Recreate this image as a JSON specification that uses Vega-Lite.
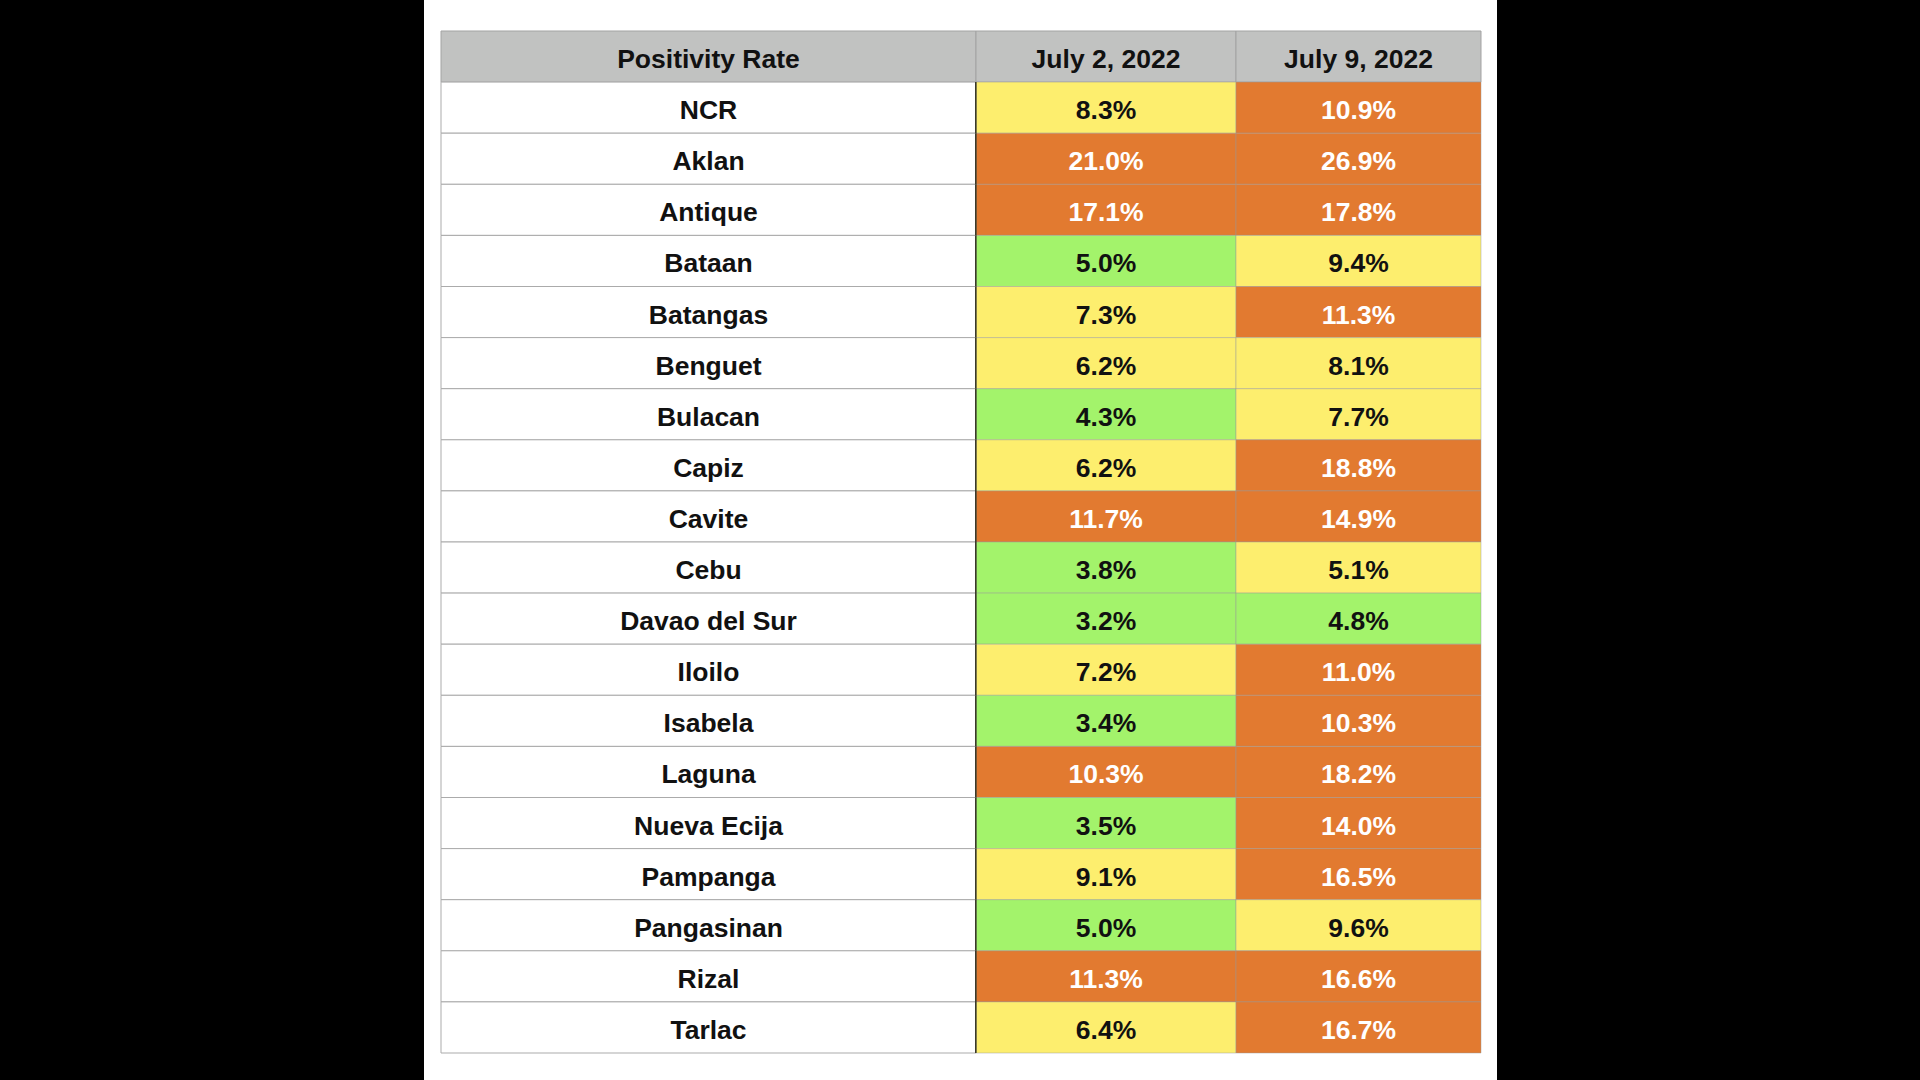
{
  "$schema": "https://vega.github.io/schema/vega-lite/v6.json",
  "width": 1073,
  "height": 1080,
  "autosize": {"type": "none"},
  "padding": {"left": 424, "top": 0, "right": 423, "bottom": 0},
  "background": "#000000",
  "config": {"view": {"fill": "#ffffff", "stroke": null}},
  "datasets": {
    "rates": [
      {"region": "NCR", "jul2": 0.083, "jul9": 0.109},
      {"region": "Aklan", "jul2": 0.210, "jul9": 0.269},
      {"region": "Antique", "jul2": 0.171, "jul9": 0.178},
      {"region": "Bataan", "jul2": 0.050, "jul9": 0.094},
      {"region": "Batangas", "jul2": 0.073, "jul9": 0.113},
      {"region": "Benguet", "jul2": 0.062, "jul9": 0.081},
      {"region": "Bulacan", "jul2": 0.043, "jul9": 0.077},
      {"region": "Capiz", "jul2": 0.062, "jul9": 0.188},
      {"region": "Cavite", "jul2": 0.117, "jul9": 0.149},
      {"region": "Cebu", "jul2": 0.038, "jul9": 0.051},
      {"region": "Davao del Sur", "jul2": 0.032, "jul9": 0.048},
      {"region": "Iloilo", "jul2": 0.072, "jul9": 0.110},
      {"region": "Isabela", "jul2": 0.034, "jul9": 0.103},
      {"region": "Laguna", "jul2": 0.103, "jul9": 0.182},
      {"region": "Nueva Ecija", "jul2": 0.035, "jul9": 0.140},
      {"region": "Pampanga", "jul2": 0.091, "jul9": 0.165},
      {"region": "Pangasinan", "jul2": 0.050, "jul9": 0.096},
      {"region": "Rizal", "jul2": 0.113, "jul9": 0.166},
      {"region": "Tarlac", "jul2": 0.064, "jul9": 0.167}
    ]
  },
  "resolve": {"scale": {"x": "independent"}},
  "layer": [
    {
      "data": {"values": [{"label": "Positivity Rate"}]},
      "encoding": {
        "x": {"datum": "Positivity Rate", "type": "nominal", "axis": null,
              "scale": {"domain": ["Positivity Rate"], "range": [17, 552], "paddingInner": 0, "paddingOuter": 0}},
        "y": {"datum": "Positivity Rate", "type": "nominal", "axis": null,
              "scale": {"domain": ["Positivity Rate", "NCR", "Aklan", "Antique", "Bataan", "Batangas", "Benguet", "Bulacan", "Capiz", "Cavite", "Cebu", "Davao del Sur", "Iloilo", "Isabela", "Laguna", "Nueva Ecija", "Pampanga", "Pangasinan", "Rizal", "Tarlac"], "range": [31, 1053], "paddingInner": 0, "paddingOuter": 0}}
      },
      "layer": [
        {"mark": {"type": "rect", "fill": "#c1c2c1", "stroke": "#a3a3a3", "strokeWidth": 1}},
        {"mark": {"type": "text", "font": "Liberation Sans", "fontWeight": "bold", "fontSize": 26.5, "fill": "#111111", "dy": 3.5}, "encoding": {"text": {"field": "label"}}}
      ]
    },
    {
      "data": {"values": [{"label": "July 2, 2022"}]},
      "encoding": {
        "x": {"datum": "July 2, 2022", "type": "nominal", "axis": null,
              "scale": {"domain": ["July 2, 2022"], "range": [552, 812], "paddingInner": 0, "paddingOuter": 0}},
        "y": {"datum": "Positivity Rate", "type": "nominal", "axis": null}
      },
      "layer": [
        {"mark": {"type": "rect", "fill": "#c1c2c1", "stroke": "#a3a3a3", "strokeWidth": 1}},
        {"mark": {"type": "text", "font": "Liberation Sans", "fontWeight": "bold", "fontSize": 26.5, "fill": "#111111", "dy": 3.5}, "encoding": {"text": {"field": "label"}}}
      ]
    },
    {
      "data": {"values": [{"label": "July 9, 2022"}]},
      "encoding": {
        "x": {"datum": "July 9, 2022", "type": "nominal", "axis": null,
              "scale": {"domain": ["July 9, 2022"], "range": [812, 1057], "paddingInner": 0, "paddingOuter": 0}},
        "y": {"datum": "Positivity Rate", "type": "nominal", "axis": null}
      },
      "layer": [
        {"mark": {"type": "rect", "fill": "#c1c2c1", "stroke": "#a3a3a3", "strokeWidth": 1}},
        {"mark": {"type": "text", "font": "Liberation Sans", "fontWeight": "bold", "fontSize": 26.5, "fill": "#111111", "dy": 3.5}, "encoding": {"text": {"field": "label"}}}
      ]
    },
    {
      "data": {"name": "rates"},
      "encoding": {
        "x": {"datum": "Positivity Rate", "type": "nominal", "axis": null,
              "scale": {"domain": ["Positivity Rate"], "range": [17, 552], "paddingInner": 0, "paddingOuter": 0}},
        "y": {"field": "region", "type": "nominal", "axis": null}
      },
      "layer": [
        {"mark": {"type": "rect", "fill": "#ffffff", "stroke": "#ababab", "strokeWidth": 1}},
        {"mark": {"type": "text", "font": "Liberation Sans", "fontWeight": "bold", "fontSize": 26.5, "fill": "#111111", "dy": 3.5}, "encoding": {"text": {"field": "region"}}}
      ]
    },
    {
      "data": {"name": "rates"},
      "encoding": {
        "x": {"datum": "July 2, 2022", "type": "nominal", "axis": null,
              "scale": {"domain": ["July 2, 2022"], "range": [552, 812], "paddingInner": 0, "paddingOuter": 0}},
        "y": {"field": "region", "type": "nominal", "axis": null}
      },
      "layer": [
        {"mark": {"type": "rect", "stroke": "#9a9a9a", "strokeOpacity": 0.45, "strokeWidth": 1},
         "encoding": {"color": {"field": "jul2", "type": "quantitative", "legend": null,
            "scale": {"type": "threshold", "domain": [0.0505, 0.1], "range": ["#a3f36b", "#fdee6e", "#e27a30"]}}}},
        {"mark": {"type": "text", "font": "Liberation Sans", "fontWeight": "bold", "fontSize": 26.5, "dy": 3.5},
         "encoding": {"text": {"field": "jul2", "type": "quantitative", "format": ".1%"},
                      "color": {"condition": {"test": "datum.jul2 >= 0.1", "value": "#ffffff"}, "value": "#111111"}}}
      ]
    },
    {
      "data": {"name": "rates"},
      "encoding": {
        "x": {"datum": "July 9, 2022", "type": "nominal", "axis": null,
              "scale": {"domain": ["July 9, 2022"], "range": [812, 1057], "paddingInner": 0, "paddingOuter": 0}},
        "y": {"field": "region", "type": "nominal", "axis": null}
      },
      "layer": [
        {"mark": {"type": "rect", "stroke": "#9a9a9a", "strokeOpacity": 0.45, "strokeWidth": 1},
         "encoding": {"color": {"field": "jul9", "type": "quantitative", "legend": null,
            "scale": {"type": "threshold", "domain": [0.0505, 0.1], "range": ["#a3f36b", "#fdee6e", "#e27a30"]}}}},
        {"mark": {"type": "text", "font": "Liberation Sans", "fontWeight": "bold", "fontSize": 26.5, "dy": 3.5},
         "encoding": {"text": {"field": "jul9", "type": "quantitative", "format": ".1%"},
                      "color": {"condition": {"test": "datum.jul9 >= 0.1", "value": "#ffffff"}, "value": "#111111"}}}
      ]
    },
    {
      "data": {"name": "rates"},
      "mark": {"type": "rect", "fill": "#3a3a2a"},
      "encoding": {
        "x": {"datum": "divider", "type": "nominal", "axis": null,
              "scale": {"domain": ["divider"], "range": [551, 552.6], "paddingInner": 0, "paddingOuter": 0}},
        "y": {"field": "region", "type": "nominal", "axis": null}
      }
    }
  ]
}
